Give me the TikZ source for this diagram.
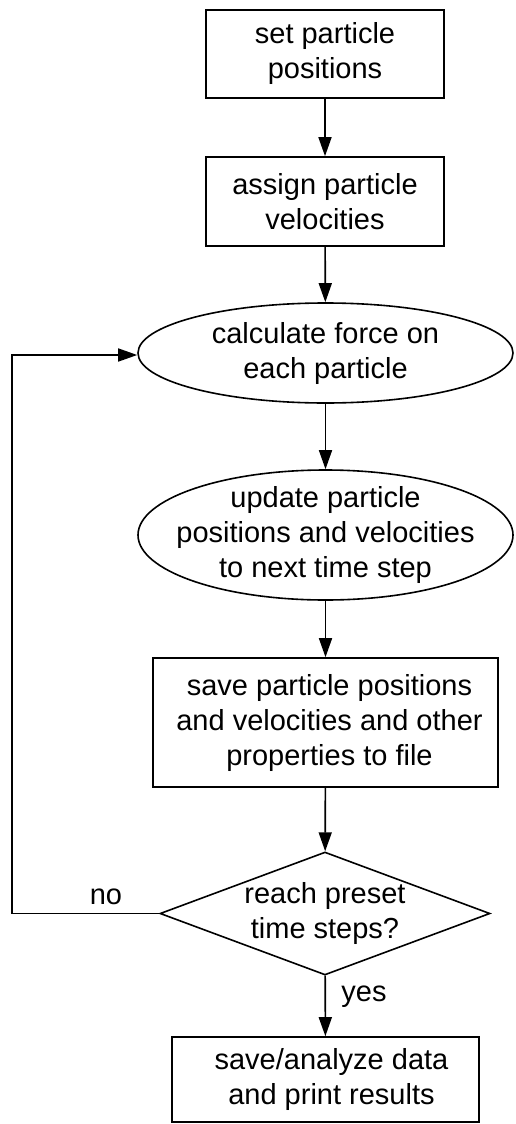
\documentclass[tikz,border=0pt]{standalone}
\usepackage{fontspec}
\setmainfont{Liberation Sans}
\usetikzlibrary{shapes.geometric,arrows.meta}
\begin{document}
\begin{tikzpicture}[x=1pt,y=-1pt,
  line width=1.6pt,
  boxshape/.style={draw,rectangle,inner sep=0pt},
  ellshape/.style={draw,ellipse,inner sep=0pt},
  diashape/.style={draw,diamond,inner sep=0pt},
  txt/.style={align=center,inner sep=0pt,font=\fontsize{29}{35}\selectfont},
  lbl/.style={inner sep=0pt,font=\fontsize{29}{35}\selectfont},
  arr/.style={-{Triangle[length=19pt,width=13pt]}}]
\useasboundingbox (0,0) rectangle (515,1124);
\node[boxshape,minimum width=238pt,minimum height=88pt] (b1) at (325,54) {};
\node[txt] at (b1) {set particle\\positions};
\node[boxshape,minimum width=238pt,minimum height=89pt] (b2) at (325,201.5) {};
\node[txt] at (b2) {assign particle\\velocities};
\node[ellshape,minimum width=375pt,minimum height=100pt] (e1) at (325.5,353) {};
\node[txt] at (e1) {calculate force on\\each particle};
\node[ellshape,minimum width=375pt,minimum height=130pt] (e2) at (325.5,535) {};
\node[txt] at (e2) {update particle\\positions and velocities\\to next time step};
\node[boxshape,minimum width=345pt,minimum height=129pt] (b3) at (325.5,722.5) {};
\node[txt] at ([xshift=4pt]b3.center) {save particle positions\\and velocities and other\\properties to file};
\node[diashape,minimum width=330pt,minimum height=123pt] (d) at (325,913.5) {};
\node[txt] at (d) {reach preset\\time steps?};
\node[boxshape,minimum width=307pt,minimum height=85pt] (b4) at (325.5,1079.5) {};
\node[txt] at ([xshift=6pt]b4.center) {save/analyze data\\and print results};
\draw[arr] (b1) -- (b2);
\draw[arr] (b2) -- (e1);
\draw[arr] (e1) -- (e2);
\draw[arr] (e2) -- (b3);
\draw[arr] (b3) -- (d);
\draw[arr] (d) -- (b4);
\coordinate (c1) at (12,913.5);
\coordinate (c2) at (12,355);
\draw[arr] (d.west) -- (c1) -- (c2) -- (e1.west |- c2);
\node[lbl] (no) at (106,897) {no};
\node[lbl] (yes) at (364,997) {yes};
\end{tikzpicture}
\end{document}
